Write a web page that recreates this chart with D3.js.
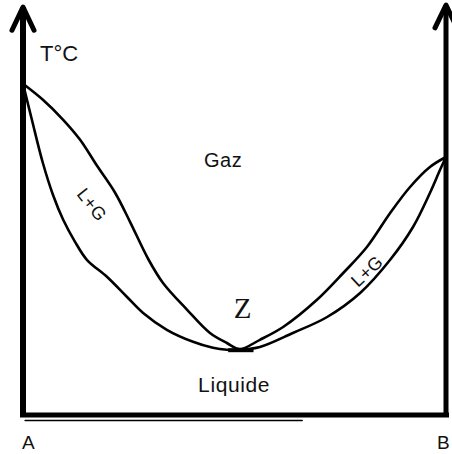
<!DOCTYPE html>
<html lang="fr">

<head>
    <meta charset="UTF-8">
    <title>Diagramme binaire liquide-vapeur (azéotrope Z)</title>
    <script src="https://d3js.org/d3.v7.min.js"></script>
    <style>
        body { margin: 0; background: #fff; }
        text { font-family: "Liberation Sans", Arial, sans-serif; fill: #111; }
    </style>
</head>

<body>
    <div id="chart"></div>

    <script>
        // composition (0 = A, 100 = B) and temperature (arbitrary units)
        const vaporComp = [0, 4.7, 9.5, 13.5, 17.5, 21.8, 25.3, 29.6, 33.1, 38.8, 44.2, 48.2, 51.3,
            56.0, 61.5, 69.5, 75.7, 81.3, 86.8, 91.5, 96.2, 100];
        const vaporTemp = [82.8, 78.8, 73.8, 68.8, 62.3, 55.5, 48.3, 39.0, 33.0, 26.3, 20.5, 18.0, 16.5,
            18.8, 22.0, 28.8, 35.5, 42.0, 50.5, 57.0, 62.0, 64.5];

        const liquidComp = [0, 2.1, 4.7, 7.1, 9.5, 12.3, 15.1, 19.9, 24.6, 28.4, 34.0, 40.2, 44.9, 48.2, 51.3,
            56.0, 63.8, 71.9, 79.7, 86.8, 92.2, 96.2, 98.6, 100];
        const liquidTemp = [82.8, 73.8, 63.0, 55.0, 48.8, 43.3, 38.8, 34.5, 29.5, 25.5, 21.3, 18.3, 16.8, 16.3, 16.3,
            17.0, 20.5, 24.5, 30.5, 38.8, 47.0, 55.5, 61.3, 64.5];

        // region labels: [text, composition, temperature, rotation]
        const labels = [
            ["Gaz", 47.3, 63.75, 0],
            ["Liquide", 49.9, 7.6, 0],
            ["L+G", 16.3, 52.6, 52],
            ["L+G", 81.3, 36.0, -43]
        ];
        const azeotrope = ["Z", 51.9, 26.75];

        const width = 452, height = 454;

        const x = d3.scaleLinear().domain([0, 100]).range([23, 446]);
        const y = d3.scaleLinear().domain([0, 100]).range([415, 15]);

        const svg = d3.select("#chart")
            .append("svg")
            .attr("width", width)
            .attr("height", height);

        // phase boundaries
        const line = d3.line()
            .x(d => x(d[0]))
            .y(d => y(d[1]))
            .curve(d3.curveCatmullRom.alpha(0.5));

        const vapor = vaporComp.map((c, i) => [c, vaporTemp[i]]);
        const liquid = liquidComp.map((c, i) => [c, liquidTemp[i]]);

        svg.append("path")
            .attr("d", line(vapor))
            .attr("fill", "none")
            .attr("stroke", "#000")
            .attr("stroke-width", 2.6);

        svg.append("path")
            .attr("d", line(liquid))
            .attr("fill", "none")
            .attr("stroke", "#000")
            .attr("stroke-width", 2.6);

        // the two curves touch at the azeotrope
        svg.append("line")
            .attr("x1", x(48.5)).attr("x2", x(54.5))
            .attr("y1", y(16.2)).attr("y2", y(16.2))
            .attr("stroke", "#000")
            .attr("stroke-width", 4);

        // axes: two vertical temperature axes with arrows, composition baseline
        const axisG = svg.append("g")
            .attr("stroke", "#000")
            .attr("fill", "none")
            .attr("stroke-linecap", "round")
            .attr("stroke-linejoin", "round");

        axisG.append("line")
            .attr("x1", x(0)).attr("x2", x(0))
            .attr("y1", y(-0.5)).attr("y2", y(102))
            .attr("stroke-width", 6)
            .attr("stroke-linecap", "butt");
        axisG.append("polyline")
            .attr("points", [[x(0) - 11, y(96.2)], [x(0), y(102)], [x(0) + 11, y(96.2)]].join(" "))
            .attr("stroke-width", 5);

        axisG.append("line")
            .attr("x1", x(100)).attr("x2", x(100))
            .attr("y1", y(-0.5)).attr("y2", y(102.5))
            .attr("stroke-width", 5)
            .attr("stroke-linecap", "butt");
        axisG.append("polyline")
            .attr("points", [[x(100) - 11, y(96.8)], [x(100), y(102.5)], [x(100) + 11, y(96.8)]].join(" "))
            .attr("stroke-width", 5);

        axisG.append("line")
            .attr("x1", x(0) - 3).attr("x2", x(100) + 3)
            .attr("y1", y(0)).attr("y2", y(0))
            .attr("stroke-width", 5)
            .attr("stroke-linecap", "butt");

        // faint hand-drawn double stroke under the baseline
        axisG.append("line")
            .attr("x1", x(0.5)).attr("x2", x(66))
            .attr("y1", y(0) + 5.5).attr("y2", y(0) + 5.5)
            .attr("stroke-width", 1.5);

        // texts
        svg.append("text")
            .attr("x", 40).attr("y", 61)
            .style("font-size", "22px")
            .text("T°C");

        labels.forEach(([t, c, T, r]) => {
            const size = r === 0 ? (t === "Gaz" ? 20 : 21) : 18;
            svg.append("text")
                .attr("transform", "translate(" + x(c) + "," + y(T) + ") rotate(" + r + ")")
                .attr("text-anchor", "middle")
                .attr("dy", "0.35em")
                .style("font-size", size + "px")
                .style("letter-spacing", t === "Liquide" ? "0.6px" : "0.5px")
                .text(t);
        });

        svg.append("text")
            .attr("x", x(azeotrope[1])).attr("y", y(azeotrope[2]))
            .attr("text-anchor", "middle")
            .attr("dy", "0.35em")
            .style("font-family", "'Liberation Serif', 'Times New Roman', serif")
            .style("font-size", "29px")
            .text(azeotrope[0]);

        svg.append("text")
            .attr("x", x(0) - 1).attr("y", 449)
            .style("font-size", "19px")
            .text("A");

        svg.append("text")
            .attr("x", x(100) - 9).attr("y", 449)
            .style("font-size", "19px")
            .text("B");
    </script>
</body>

</html>
